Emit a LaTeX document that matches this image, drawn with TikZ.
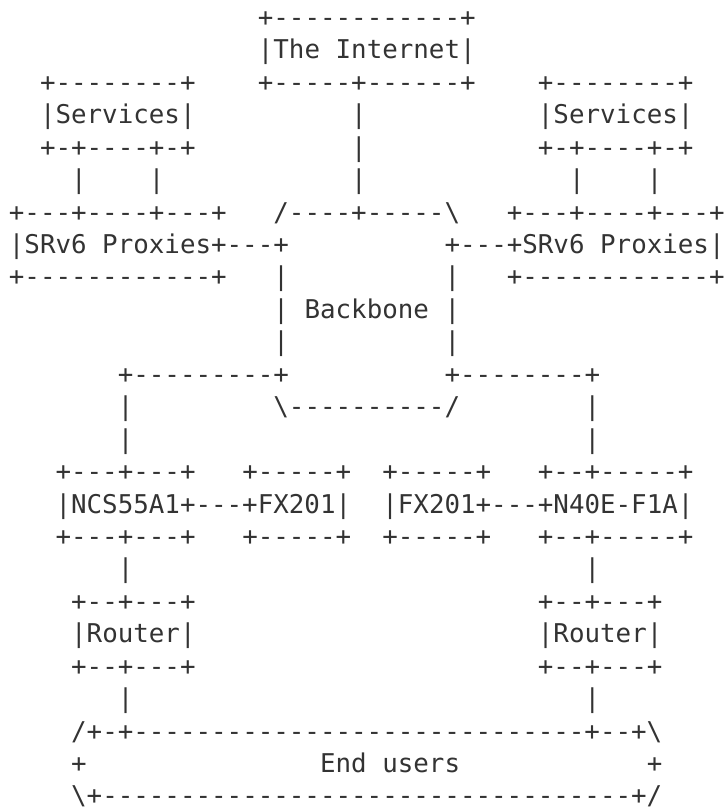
\documentclass[tikz,border=0pt]{standalone}
\usepackage{fontspec}
\setmonofont{DejaVu Sans Mono}
\definecolor{ink}{HTML}{333333}
\tikzstyle{ascii} = [anchor=base west, inner sep=0pt, outer sep=0pt, text=ink, font=\ttfamily\fontsize{12.92pt}{16pt}\selectfont]

\begin{document}
\begin{tikzpicture}[x=7.78pt, y=-16.22pt]

\useasboundingbox (-4.45pt,13.2pt) rectangle (358.55pt,-391.3pt);

\node (inetTop) [ascii] at (16,0) {+------------+};
\node (inet) [ascii] at (16,1) {|The Internet|};
\node (svcLTop) [ascii] at (2,2) {+--------+};
\node (inetBot) [ascii] at (16,2) {+-----+------+};
\node (svcRTop) [ascii] at (34,2) {+--------+};

\node (svcL) [ascii] at (2,3) {|Services|};
\node (inetLinkA) [ascii] at (22,3) {|};
\node (svcR) [ascii] at (34,3) {|Services|};
\node (svcLBot) [ascii] at (2,4) {+-+----+-+};
\node (inetLinkB) [ascii] at (22,4) {|};
\node (svcRBot) [ascii] at (34,4) {+-+----+-+};

\node (svcLLinkA) [ascii] at (4,5) {|};
\node (svcLLinkB) [ascii] at (9,5) {|};
\node (inetLinkC) [ascii] at (22,5) {|};
\node (svcRLinkA) [ascii] at (36,5) {|};
\node (svcRLinkB) [ascii] at (41,5) {|};

\node (proxLTop) [ascii] at (0,6) {+---+----+---+};
\node (boneTop) [ascii] at (17,6) {/----+-----\textbackslash};
\node (proxRTop) [ascii] at (32,6) {+---+----+---+};
\node (proxL) [ascii] at (0,7) {|SRv6 Proxies+---+};
\node (proxR) [ascii] at (28,7) {+---+SRv6 Proxies|};
\node (proxLBot) [ascii] at (0,8) {+------------+};
\node (boneL1) [ascii] at (17,8) {|};
\node (boneR1) [ascii] at (28,8) {|};
\node (proxRBot) [ascii] at (32,8) {+------------+};

\node (bone) [ascii] at (17,9) {| Backbone |};
\node (boneL2) [ascii] at (17,10) {|};
\node (boneR2) [ascii] at (28,10) {|};
\node (boneLOut) [ascii] at (7,11) {+---------+};
\node (boneROut) [ascii] at (28,11) {+--------+};
\node (ncsLinkA) [ascii] at (7,12) {|};
\node (boneBot) [ascii] at (17,12) {\textbackslash----------/};
\node (nLinkA) [ascii] at (37,12) {|};
\node (ncsLinkB) [ascii] at (7,13) {|};
\node (nLinkB) [ascii] at (37,13) {|};

\node (ncsTop) [ascii] at (3,14) {+---+---+};
\node (fxLTop) [ascii] at (15,14) {+-----+};
\node (fxRTop) [ascii] at (24,14) {+-----+};
\node (nTop) [ascii] at (34,14) {+--+-----+};
\node (ncs) [ascii] at (3,15) {|NCS55A1+---+FX201|};
\node (n40) [ascii] at (24,15) {|FX201+---+N40E-F1A|};
\node (ncsBot) [ascii] at (3,16) {+---+---+};
\node (fxLBot) [ascii] at (15,16) {+-----+};
\node (fxRBot) [ascii] at (24,16) {+-----+};
\node (nBot) [ascii] at (34,16) {+--+-----+};

\node (rtLLinkA) [ascii] at (7,17) {|};
\node (rtRLinkA) [ascii] at (37,17) {|};
\node (rtLTop) [ascii] at (4,18) {+--+---+};
\node (rtRTop) [ascii] at (34,18) {+--+---+};
\node (rtL) [ascii] at (4,19) {|Router|};
\node (rtR) [ascii] at (34,19) {|Router|};
\node (rtLBot) [ascii] at (4,20) {+--+---+};
\node (rtRBot) [ascii] at (34,20) {+--+---+};
\node (rtLLinkB) [ascii] at (7,21) {|};
\node (rtRLinkB) [ascii] at (37,21) {|};

\node (usersTop) [ascii] at (4,22) {/+-+-----------------------------+--+\textbackslash};
\node (usersL) [ascii] at (4,23) {+};
\node (users) [ascii] at (20,23) {End users};
\node (usersR) [ascii] at (41,23) {+};
\node (usersBot) [ascii] at (4,24) {\textbackslash+----------------------------------+/};

\end{tikzpicture}
\end{document}
